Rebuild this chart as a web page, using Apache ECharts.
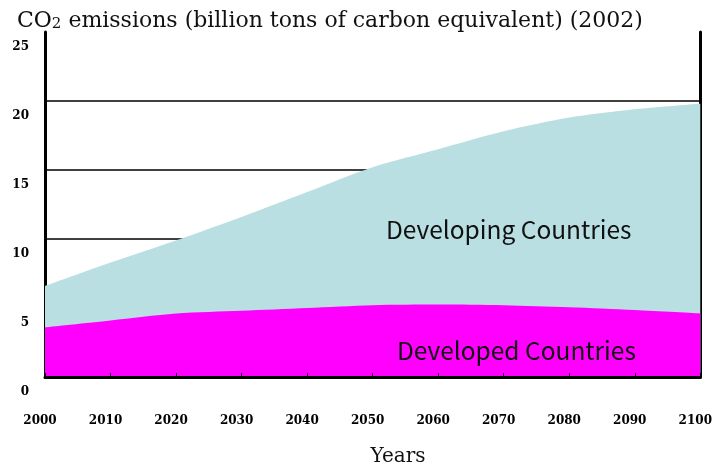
<!DOCTYPE html>
<html>
<head>
<meta charset="utf-8">
<script src="https://cdn.jsdelivr.net/npm/echarts@6/dist/echarts.min.js"></script>
<style>html,body{margin:0;padding:0;background:#fff}#c{width:715px;height:469px}</style>
</head>
<body>
<div id="c"></div>
<script>
const years = [2000, 2010, 2020, 2030, 2040, 2050, 2060, 2070, 2080, 2090, 2100];
const totalEmissions = [6.6, 8.3, 9.9, 11.6, 13.4, 15.2, 16.5, 17.8, 18.8, 19.4, 19.8];
const developedEmissions = [3.6, 4.1, 4.6, 4.8, 5.0, 5.2, 5.25, 5.2, 5.05, 4.85, 4.6];
const yTicks = [0, 5, 10, 15, 20, 25];

const chart = echarts.init(document.getElementById('c'));
const serif = '"DejaVu Serif", serif';
chart.setOption({
  animation: false,
  backgroundColor: '#fff',
  title: [{
    text: '{a|CO}{s|2}{a| emissions (billion tons of carbon equivalent) (2002)}',
    left: 12, top: 5,
    textStyle: { fontWeight: 'normal', rich: {
      a: { fontFamily: serif, fontSize: 22, fontWeight: 'normal', color: '#111' },
      s: { fontFamily: serif, fontSize: 15, fontWeight: 'normal', color: '#111', padding: [6, 0, 0, 0] }
    } }
  }, {
    text: 'Years', left: 393, top: 442, textAlign: 'center',
    textStyle: { fontFamily: serif, fontSize: 20, fontWeight: 'normal', color: '#111' }
  }],
  grid: { left: 45, right: 14, top: 32, bottom: 92 },
  xAxis: {
    type: 'value', min: 2000, max: 2100, interval: 10, z: 10,
    axisLine: { show: true, onZero: false, lineStyle: { color: '#000', width: 3 } },
    axisTick: { show: true, inside: true, length: 4, lineStyle: { color: '#000', width: 1 } },
    splitLine: { show: false },
    axisLabel: { margin: 38, fontFamily: serif, fontWeight: 'bold', fontSize: 12, color: '#000', padding: [0, 10, 0, 0], formatter: v => String(v) }
  },
  yAxis: [{
    type: 'value', min: 0, max: 25, interval: 5,
    axisLine: { show: true, lineStyle: { color: '#000', width: 3 } },
    axisTick: { show: false },
    splitLine: { show: true, lineStyle: { color: ['#000', '#000', '#000', '#000', '#000', 'rgba(0,0,0,0)'], width: 1.5 } },
    axisLabel: { margin: 16, verticalAlign: 'top', padding: [9, 0, 0, 0], fontFamily: serif, fontWeight: 'bold', fontSize: 12, color: '#000',
      formatter: v => yTicks.includes(v) ? String(v) : '' }
  }, {
    type: 'value', min: 0, max: 25, interval: 5, position: 'right',
    axisLine: { show: true, lineStyle: { color: '#000', width: 3 } },
    axisTick: { show: false }, axisLabel: { show: false }, splitLine: { show: false }
  }],
  series: [{
    type: 'line', name: 'Developing Countries',
    data: years.map((y, i) => [y, totalEmissions[i]]),
    smooth: 0.3, symbol: 'none', lineStyle: { width: 0 },
    areaStyle: { color: '#B9DFE2', opacity: 1 }, z: 2
  }, {
    type: 'line', name: 'Developed Countries',
    data: years.map((y, i) => [y, developedEmissions[i]]),
    smooth: 0.3, symbol: 'none', lineStyle: { width: 0 },
    areaStyle: { color: '#FF00FF', opacity: 1 }, z: 3
  }],
  graphic: [{
    type: 'text', left: 386, top: 217, z: 10,
    style: { text: 'Developing Countries', font: '24.5px "Noto Sans CJK JP", sans-serif', fill: '#111' }
  }, {
    type: 'text', left: 397, top: 338, z: 10,
    style: { text: 'Developed Countries', font: '24.5px "Noto Sans CJK JP", sans-serif', fill: '#111' }
  }]
});
</script>
</body>
</html>
